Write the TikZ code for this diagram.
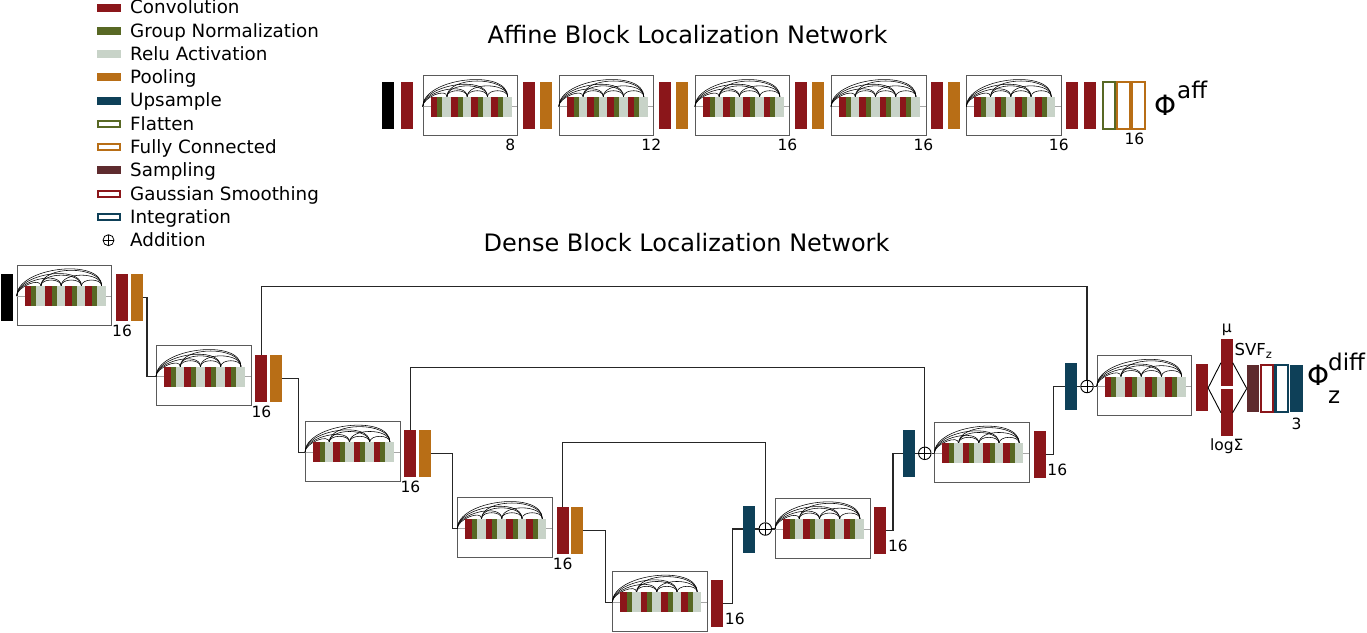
\documentclass[tikz,border=0pt]{standalone}
\usepackage{fontspec}
\setmainfont{DejaVu Sans}
\usepackage{tikz}
\usetikzlibrary{positioning,calc}
\usepackage{xcolor}
\definecolor{convc}{RGB}{139,22,26}
\definecolor{gnc}{RGB}{88,104,36}
\definecolor{reluc}{RGB}{200,211,200}
\definecolor{poolc}{RGB}{184,110,22}
\definecolor{upc}{RGB}{14,64,88}
\definecolor{sampc}{RGB}{94,43,46}
\definecolor{boxc}{RGB}{90,90,90}

% dense block: #1 name, (#2,#3) left end of its inner line
\newcommand{\denseblk}[3]{%
  \node[blk, anchor=north west] (#1) at (#2,{#3-31.3}) {};
  \coordinate (#1-in) at (#2,#3);
  \draw[inline] (#1-in) -- ++(94.5,0);
  \foreach \i in {0,...,3} {
    \pgfmathtruncatemacro{\jst}{\i+1}
    \foreach \j in {\jst,...,4} {
      \pgfmathsetmacro{\xa}{\i==0 ? 0 : 4+20.25*\i}
      \pgfmathsetmacro{\ya}{\i==0 ? 0 : -10}
      \pgfmathsetmacro{\xb}{4+20.25*\j}
      \pgfmathsetmacro{\kk}{0.32*(\xb-\xa)+1.5}
      \draw[skiparc] ($(#1-in)+(\xa,\ya)$) .. controls +(0,-\kk) and +(0,-\kk) .. ($(#1-in)+(\xb,-10)$);
    }
  }
  \foreach \i in {0,...,3} {
    \fill[convc] ($(#1-in)+(8+20.25*\i,-10)$) rectangle ++(6.7,20);
    \fill[gnc] ($(#1-in)+(14.7+20.25*\i,-10)$) rectangle ++(5,20);
    \fill[reluc] ($(#1-in)+(19.7+20.25*\i,-10)$) rectangle ++(8.55,20);
  }
}

\begin{document}
\begin{tikzpicture}[
    x=1pt, y=-1pt,
    blk/.style={rectangle, draw=boxc, line width=0.9pt, fill=white,
                minimum width=94.5pt, minimum height=60pt, inner sep=0pt},
    inline/.style={draw=gray!70, line width=1pt},
    skiparc/.style={draw=black, line width=0.55pt},
    bar/.style={rectangle, inner sep=0pt, outer sep=0pt,
                minimum width=12pt, minimum height=47pt},
    conv/.style={bar, fill=convc},
    pool/.style={bar, fill=poolc},
    ups/.style={bar, fill=upc},
    inp/.style={bar, fill=black},
    samp/.style={bar, fill=sampc},
    hollow/.style={bar, fill=white, line width=2.1pt, minimum width=12.5pt},
    addn/.style={circle, draw=black, line width=0.9pt, minimum size=12.5pt, inner sep=0pt,
                 path picture={\draw[line width=0.9pt]
                   (path picture bounding box.north) -- (path picture bounding box.south)
                   (path picture bounding box.west) -- (path picture bounding box.east);}},
    wire/.style={draw=black!85, line width=1.3pt},
    thinw/.style={draw=black, line width=0.9pt},
    lbl/.style={font=\fontsize{15.5}{18}\selectfont, inner sep=0pt},
    ttl/.style={font=\fontsize{24}{28}\selectfont, inner sep=0pt},
    legtxt/.style={font=\fontsize{18.3}{21}\selectfont, inner sep=0pt},
    swatch/.style={rectangle, line width=2pt, minimum width=22pt, minimum height=6pt, inner sep=0pt},
    bigphi/.style={font=\fontsize{28}{32}\selectfont, inner sep=0pt},
    supt/.style={font=\fontsize{23}{26}\selectfont, inner sep=0pt},
]
\useasboundingbox (0,0) rectangle (1367,632);

% Legend
\foreach \txt/\col/\fil [count=\k from 0] in {Convolution/convc/convc,
    Group Normalization/gnc/gnc, Relu Activation/reluc/reluc, Pooling/poolc/poolc,
    Upsample/upc/upc, Flatten/gnc/white, Fully Connected/poolc/white,
    Sampling/sampc/sampc, Gaussian Smoothing/convc/white, Integration/upc/white} {
    \pgfmathsetmacro{\yy}{7.5+23.27*\k}
    \node[swatch, draw=\col, fill=\fil] (lg\k) at (109,\yy) {};
    \node[legtxt, anchor=base west] (lt\k) at (130,{\yy+6.4}) {\txt};
}
\node[addn, minimum size=11pt, line width=0.8pt] (lg10) at (108.5,240.2) {};
\node[legtxt, anchor=base west] (lt10) at (130,246.6) {Addition};

% Affine network
\node[ttl] (t-aff) at (687.5,35) {Affine Block Localization Network};
\node[inp] (a-in) at (388.3,105.7) {};
\node[conv, right=6.5pt of a-in] (a-in-c) {};
\foreach \n/\lab in {1/8,2/12,3/16,4/16} {
    \denseblk{f\n}{{422.7+136.1*(\n-1)}}{106.7}
    \node[conv, right=4.5pt of f\n] (f\n-c) {};
    \node[pool, right=5.5pt of f\n-c] (f\n-p) {};
    \node[lbl, anchor=north west] (f\n-l) at ($(f\n.south east)+(-13,2)$) {\lab};
}
\denseblk{f5}{966.3}{106.7}
\node[conv, right=4.5pt of f5] (f5-c) {};
\node[conv, right=6pt of f5-c] (f5-c2) {};
\node[lbl, anchor=north west] (f5-l) at ($(f5.south east)+(-13,2)$) {16};
\node[hollow, draw=gnc, right=6.5pt of f5-c2] (flat) {};
\node[hollow, draw=poolc, right=2.2pt of flat] (fc1) {};
\node[hollow, draw=poolc, right=2.2pt of fc1] (fc2) {};
\node[lbl, anchor=north] (fc-l) at ($(fc2.south)+(-4,3.5)$) {16};
\node[bigphi, anchor=base west] (phi-a) at (1154,115) {Φ};
\node[supt, anchor=base west] (phi-a-s) at (1177,98.5) {aff};

% Dense network
\node[ttl] (t-den) at (686.5,243) {Dense Block Localization Network};
\node[inp] (d-in) at (6.85,297.5) {};
\foreach \nm/\xx/\yy in {e1/16.7/296, e2/156/376.7, e3/305/452.3, e4/457.3/528.7} {
    \denseblk{\nm}{\xx}{\yy}
    \node[conv, right=4pt of \nm, yshift=-2.3pt] (\nm-c) {};
    \node[pool, right=2.5pt of \nm-c] (\nm-p) {};
    \node[lbl, below=4pt of \nm-c] (\nm-l) {16};
}
\denseblk{e5}{612.3}{602.3}
\node[conv, right=3.5pt of e5, yshift=-2.3pt] (e5-c) {};
\node[lbl, anchor=south west] (e5-l) at ($(e5-c.south east)+(1.5,-2)$) {16};

% decoder
\foreach \nm/\xx/\yy in {r1/775/529, r2/934.3/453.3, r3/1096.7/386.5} {
    \denseblk{\nm}{\xx}{\yy}
    \node[conv, right=4pt of \nm, yshift=-2.3pt] (\nm-c) {};
}
\node[lbl, anchor=south west] (r1-l) at ($(r1-c.south east)+(1.5,-2.5)$) {16};
\node[lbl, anchor=south west] (r2-l) at ($(r2-c.south east)+(1.5,-2.5)$) {16};
\node[addn] (a1) at ($(r1-in)+(-9.7,0)$) {};
\node[addn] (a2) at ($(r2-in)+(-9.5,0)$) {};
\node[addn] (a3) at ($(r3-in)+(-9.7,0)$) {};
\node[ups, left=3.3pt of a1] (u1) {};
\node[ups, left=3.3pt of a2] (u2) {};
\node[ups, left=3.3pt of a3] (u3) {};

% Wires
\draw[wire] (e1-p.east) -| ($(e2-in)+(-9,0)$) -- (e2-in);
\draw[wire] (e2-p.east) -| ($(e3-in)+(-6.5,0)$) -- (e3-in);
\draw[wire] (e3-p.east) -| ($(e4-in)+(-5,0)$) -- (e4-in);
\draw[wire] (e4-p.east) -| ($(e5-in)+(-7,0)$) -- (e5-in);
\draw[wire] (e5-c.east) -- ++(9.4,0) |- (u1.west);
\draw[wire] (r1-c.east) -- ++(6.6,0) |- (u2.west);
\draw[wire] (r2-c.east) -- ++(7.7,0) |- (u3.west);
\foreach \k in {1,2,3} {
    \draw[wire] (u\k.east) -- (a\k.west);
    \draw[wire] (a\k.east) -- (r\k-in);
}
% Skip connections
\draw[wire] (e2-c.north) -- ++(0,-68.5) -| (a3.north);
\draw[wire] (e3-c.north) -- ++(0,-63.1) -| (a2.north);
\draw[wire] (e4-c.north) -- ++(0,-63.9) -| (a1.north);

% Sampling head
\node[conv, minimum width=11.7pt] (mu) at (1226.8,362.7) {};
\node[conv, minimum width=11.7pt] (lsig) at (1226.8,412.7) {};
\node[samp, minimum width=12.3pt] (smp) at (1252.9,388.5) {};
\node[hollow, draw=convc, minimum width=12pt, right=2.2pt of smp] (gauss) {};
\node[hollow, draw=upc, minimum width=12.5pt, right=2.2pt of gauss] (integ) {};
\node[ups, minimum width=13pt, right=2pt of integ] (upf) {};
\draw[thinw] (r3-c.east) -- (mu.west);
\draw[thinw] (r3-c.east) -- (lsig.west);
\draw[thinw] (mu.east) -- (smp.west);
\draw[thinw] (lsig.east) -- (smp.west);
\node[lbl, above=3pt of mu] (mu-l) {μ};
\node[lbl, below=2.5pt of lsig] (lsig-l) {logΣ};
\node[lbl, font=\fontsize{16.5}{19}\selectfont, anchor=base west] (svf-l) at (1234.5,355.5) {SVF\textsubscript{z}};
\node[lbl, below=6pt of upf] (upf-l) {3};
\node[bigphi, anchor=base west] (phi-d) at (1307,385.5) {Φ};
\node[supt, anchor=base west] (phi-d-s) at (1328,370) {diff};
\node[supt, anchor=base west] (phi-d-b) at (1328,403) {z};
\end{tikzpicture}
\end{document}
